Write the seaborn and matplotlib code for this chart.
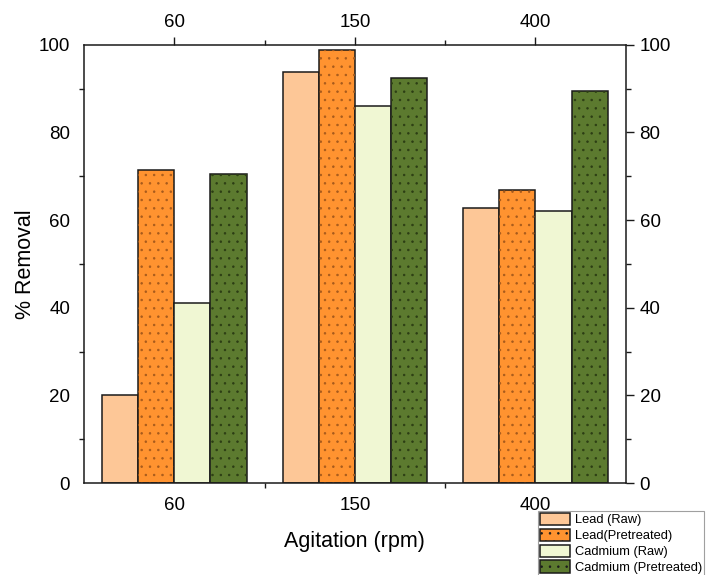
import numpy as np
import pandas as pd
import matplotlib
matplotlib.use("Agg")
import matplotlib.pyplot as plt
import seaborn as sns
from matplotlib.patches import Patch, Rectangle
from matplotlib.ticker import MultipleLocator, FixedLocator

# data
rpm = ["60", "150", "400"]
series = ["Lead (Raw)", "Lead(Pretreated)", "Cadmium (Raw)", "Cadmium (Pretreated)"]
lead_raw = [20.0, 93.9, 62.7]
lead_pre = [71.5, 98.8, 66.9]
cd_raw = [41.0, 86.0, 62.1]
cd_pre = [70.5, 92.5, 89.4]

colors = ["#FDC797", "#FF9330", "#F0F7D3", "#5C7A2F"]
hatches = ["", "..", "", ".."]
dot_colors = [None, "#a65a1c", None, "#2c3d14"]

df = pd.DataFrame({
    "rpm": rpm * 4,
    "removal": lead_raw + lead_pre + cd_raw + cd_pre,
    "series": [s for s in series for _ in rpm],
})

sns.set_theme(style="white")
plt.rcParams["font.family"] = ["Liberation Sans", "DejaVu Sans"]
plt.rcParams["text.color"] = "black"
plt.rcParams["axes.labelcolor"] = "black"
plt.rcParams["xtick.color"] = "black"
plt.rcParams["ytick.color"] = "black"
plt.rcParams["hatch.linewidth"] = 0.55

fig = plt.figure(figsize=(7.07, 5.75), dpi=100)
ax = fig.add_axes([0.119, 0.160, 0.766, 0.762])

sns.barplot(data=df, x="rpm", y="removal", hue="series", order=rpm,
            hue_order=series, palette=colors, width=0.8, edgecolor="#1a1a1a",
            linewidth=1.1, saturation=1, legend=False, ax=ax)

# dotted fill on the pretreated bars, dots in a muted colour
for cont, h, dc in zip(ax.containers, hatches, dot_colors):
    if not h:
        continue
    for bar in cont:
        ax.add_patch(Rectangle(bar.get_xy(), bar.get_width(), bar.get_height(),
                               facecolor="none", edgecolor=dc, hatch=h,
                               linewidth=0, zorder=bar.get_zorder() + 0.01))

ax.set_xlim(-0.5, 2.5)
ax.set_ylim(0, 100)
ax.yaxis.set_major_locator(MultipleLocator(20))
ax.yaxis.set_minor_locator(MultipleLocator(10))
ax.xaxis.set_minor_locator(FixedLocator([0.5, 1.5]))

ax.set_xlabel("Agitation (rpm)", fontsize=15.5, labelpad=12)
ax.set_ylabel("% Removal", fontsize=15.5)
ax.yaxis.set_label_coords(-0.088, 0.5)

for s in ax.spines.values():
    s.set_color("#1a1a1a")
    s.set_linewidth(1.1)

ax.tick_params(axis="both", which="major", direction="out", length=6, width=1,
               color="#1a1a1a", labelsize=13.5, pad=4,
               top=True, right=True, labeltop=True, labelright=True)
ax.tick_params(axis="both", which="minor", direction="out", length=3.5, width=1,
               color="#1a1a1a", top=True, right=True, bottom=True, left=True)

# legend at the lower right, just below the axes like the original
handles = [Patch(facecolor=c, edgecolor="#1a1a1a", hatch=h, linewidth=1.1)
           for c, h in zip(colors, hatches)]
leg = fig.legend(handles, series, loc="upper left", bbox_to_anchor=(0.761, 0.112),
                 fontsize=9.3, frameon=True, fancybox=False, borderpad=0.15,
                 labelspacing=0.17, handlelength=2.3, handleheight=1.15,
                 handletextpad=0.4, borderaxespad=0)
leg.get_frame().set_edgecolor("#888888")
leg.get_frame().set_linewidth(0.8)

fig.savefig("out.png", dpi=100)
